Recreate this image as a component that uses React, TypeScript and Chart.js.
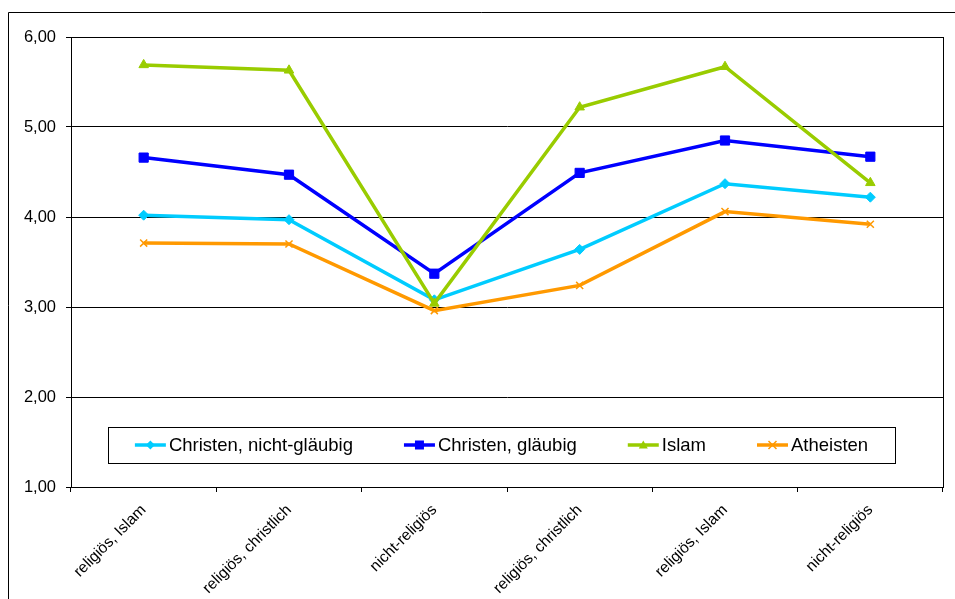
import React, { useEffect, useRef } from "react";
import { Chart, registerables } from "chart.js";

Chart.register(...registerables);

const categories = [
  "religiös, Islam",
  "religiös, christlich",
  "nicht-religiös",
  "religiös, christlich",
  "religiös, Islam",
  "nicht-religiös",
];
const christenNichtGlaeubig = [4.02, 3.97, 3.08, 3.64, 4.37, 4.22];
const christenGlaeubig = [4.66, 4.47, 3.37, 4.49, 4.85, 4.67];
const islam = [5.69, 5.63, 3.04, 5.22, 5.67, 4.38];
const atheisten = [3.71, 3.7, 2.96, 3.24, 4.06, 3.92];
const yTickLabels = ["1,00", "2,00", "3,00", "4,00", "5,00", "6,00"];

const seriesNames = ["Christen, nicht-gläubig", "Christen, gläubig", "Islam", "Atheisten"];
const seriesColors = ["#00CCFF", "#0000FF", "#99CC00", "#FF9900"];
const seriesMarkers = ["rectRot", "rect", "triangle", "crossRot"];

const FONT = '"Liberation Sans", Arial, sans-serif';

function drawMarker(ctx: CanvasRenderingContext2D, style: string, x: number, y: number, r: number, color: string) {
  ctx.save();
  ctx.fillStyle = color;
  ctx.strokeStyle = color;
  ctx.lineWidth = 1.5;
  ctx.beginPath();
  if (style === "rectRot") {
    ctx.moveTo(x, y - r);
    ctx.lineTo(x + r, y);
    ctx.lineTo(x, y + r);
    ctx.lineTo(x - r, y);
    ctx.closePath();
    ctx.fill();
  } else if (style === "rect") {
    ctx.rect(x - r, y - r, 2 * r, 2 * r);
    ctx.fill();
  } else if (style === "triangle") {
    ctx.moveTo(x, y - r);
    ctx.lineTo(x + r, y + r * 0.8);
    ctx.lineTo(x - r, y + r * 0.8);
    ctx.closePath();
    ctx.fill();
  } else {
    ctx.moveTo(x - r, y - r);
    ctx.lineTo(x + r, y + r);
    ctx.moveTo(x + r, y - r);
    ctx.lineTo(x - r, y + r);
    ctx.stroke();
  }
  ctx.restore();
}

const framePlugin = {
  id: "frameAndLegend",
  afterDraw(chart: any) {
    const ctx: CanvasRenderingContext2D = chart.ctx;
    const a = chart.chartArea;
    ctx.save();
    ctx.strokeStyle = "#000";
    ctx.lineWidth = 1;
    ctx.beginPath();
    ctx.moveTo(8.5, chart.height);
    ctx.lineTo(8.5, 12.5);
    ctx.lineTo(chart.width, 12.5);
    ctx.stroke();
    ctx.strokeRect(Math.round(a.left) + 0.5, Math.round(a.top) + 0.5, Math.round(a.right - a.left), Math.round(a.bottom - a.top));

    const boxLeft = a.left + 37;
    const boxRight = a.right - 48;
    const boxTop = a.bottom - 60;
    const boxH = 36;
    ctx.fillStyle = "#fff";
    ctx.fillRect(boxLeft, boxTop, boxRight - boxLeft, boxH);
    ctx.strokeStyle = "#000";
    ctx.strokeRect(Math.round(boxLeft) + 0.5, Math.round(boxTop) + 0.5, Math.round(boxRight - boxLeft), boxH);

    ctx.font = `18.5px ${FONT}`;
    ctx.textBaseline = "middle";
    ctx.textAlign = "left";
    const lineW = 31;
    const gap = 3;
    const spacing = 51;
    const widths = seriesNames.map((n) => ctx.measureText(n).width);
    const total = widths.reduce((s, w) => s + lineW + gap + w, 0) + spacing * (seriesNames.length - 1);
    let x = (boxLeft + boxRight) / 2 - total / 2;
    const cy = boxTop + boxH / 2;
    seriesNames.forEach((name, i) => {
      ctx.strokeStyle = seriesColors[i];
      ctx.lineWidth = 3.5;
      ctx.beginPath();
      ctx.moveTo(x, cy);
      ctx.lineTo(x + lineW, cy);
      ctx.stroke();
      const r = seriesMarkers[i] === "rect" ? 4.5 : seriesMarkers[i] === "crossRot" ? 4 : 4.5;
      drawMarker(ctx, seriesMarkers[i], x + lineW / 2, cy, r, seriesColors[i]);
      ctx.fillStyle = "#000";
      ctx.fillText(name, x + lineW + gap, cy + 1);
      x += lineW + gap + widths[i] + spacing;
    });
    ctx.restore();
  },
};

export default function App() {
  const ref = useRef<HTMLCanvasElement | null>(null);
  useEffect(() => {
    if (!ref.current) return;
    const seriesData = [christenNichtGlaeubig, christenGlaeubig, islam, atheisten];
    const radii = [5, 6.5, 5.5, 5];
    const chart = new Chart(ref.current, {
      type: "line",
      data: {
        labels: categories,
        datasets: seriesNames.map((name, i) => ({
          label: name,
          data: seriesData[i],
          borderColor: seriesColors[i],
          backgroundColor: seriesColors[i],
          borderWidth: 3.5,
          pointStyle: seriesMarkers[i] as any,
          pointRadius: radii[i],
          pointBorderWidth: seriesMarkers[i] === "crossRot" ? 1.5 : 1,
          pointBorderColor: seriesColors[i],
          pointBackgroundColor: seriesColors[i],
          tension: 0,
          fill: false,
          order: seriesNames.length - i,
        })),
      },
      options: {
        responsive: false,
        animation: false,
        layout: { padding: { left: 0, right: 12, top: 37, bottom: 0 } },
        plugins: { legend: { display: false }, tooltip: { enabled: false } },
        scales: {
          x: {
            offset: true,
            grid: { offset: true, drawOnChartArea: false, drawTicks: true, tickLength: 5, color: "#000" },
            border: { color: "#000", width: 1 },
            ticks: {
              autoSkip: false,
              minRotation: 45,
              maxRotation: 45,
              padding: 9,
              color: "#000",
              font: { family: FONT, size: 15.5 },
            },
            afterFit: (s: any) => {
              s.height = 112;
            },
          },
          y: {
            min: 1,
            max: 6,
            ticks: {
              stepSize: 1,
              padding: 10,
              color: "#000",
              font: { family: FONT, size: 16.5 },
              callback: (v: any) => yTickLabels[Math.round(Number(v)) - 1] ?? "",
            },
            grid: { color: "#000", lineWidth: 1, tickLength: 5 },
            border: { color: "#000", width: 1 },
            afterFit: (s: any) => {
              s.width = 71;
            },
          },
        },
      },
      plugins: [framePlugin],
    });
    return () => chart.destroy();
  }, []);
  return (
    <div style={{ position: "fixed", left: 0, top: 0, width: 955, height: 599, background: "#fff" }}>
      <canvas ref={ref} width={955} height={599} style={{ display: "block", width: 955, height: 599 }} />
    </div>
  );
}
